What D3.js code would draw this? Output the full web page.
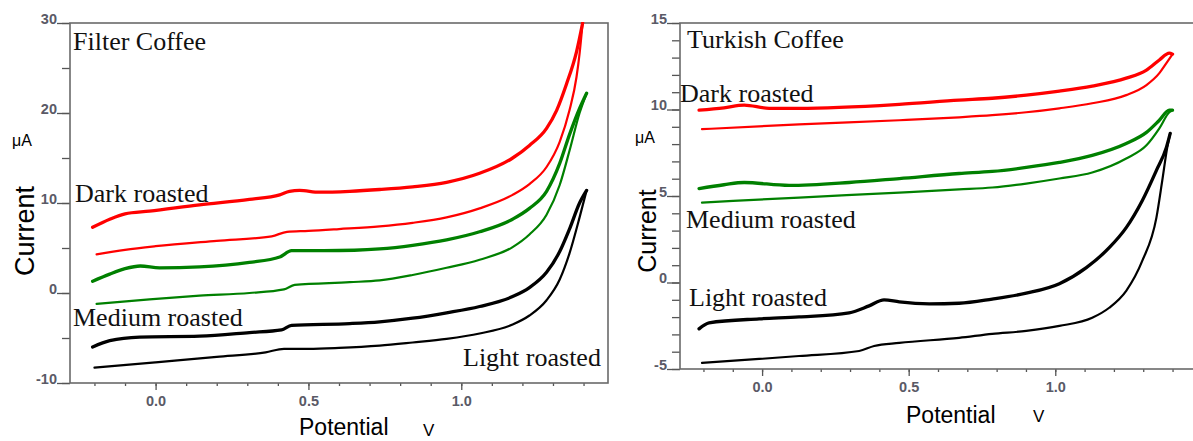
<!DOCTYPE html>
<html>
<head>
<meta charset="utf-8">
<script src="https://cdn.jsdelivr.net/npm/d3@7/dist/d3.min.js"></script>
<style>
    body { margin: 0; background: #ffffff; }
    svg { display: block; }
</style>
</head>
<body>
<div id="chart"></div>
<script>

// potential (V), current (uA)
// "fwd" = upper trace, "rev" = lower trace of each loop

const filter_dark_fwd = [[-0.206, 7.3], [-0.15, 8.2], [-0.1, 8.8], [-0.02, 9.1], [0.144, 9.8], [0.307, 10.4], [0.406, 10.9], [0.438, 11.3], [0.471, 11.4], [0.536, 11.2], [0.635, 11.3], [0.733, 11.5], [0.841, 11.8], [0.952, 12.3], [1.06, 13.3], [1.168, 15.0], [1.223, 16.4], [1.279, 18.3], [1.312, 20.3], [1.344, 23.2], [1.377, 26.8], [1.397, 30.0]]
const filter_dark_rev = [[-0.193, 4.3], [-0.1, 4.8], [0.0, 5.2], [0.2, 5.8], [0.38, 6.3], [0.43, 6.8], [0.5, 6.9], [0.6, 7.1], [0.733, 7.4], [0.841, 7.8], [0.952, 8.4], [1.06, 9.4], [1.168, 10.9], [1.223, 12.1], [1.279, 14.0], [1.322, 16.8], [1.354, 20.3], [1.377, 24.0], [1.387, 26.6], [1.397, 30.0]]
const filter_medium_fwd = [[-0.206, 1.3], [-0.15, 2.1], [-0.1, 2.7], [-0.05, 3.0], [0.013, 2.8], [0.144, 2.9], [0.307, 3.4], [0.406, 4.0], [0.445, 4.7], [0.55, 4.7], [0.65, 4.75], [0.733, 4.9], [0.841, 5.3], [0.952, 5.9], [1.06, 6.8], [1.168, 8.2], [1.223, 9.4], [1.279, 11.3], [1.322, 14.4], [1.354, 17.6], [1.387, 20.5], [1.41, 22.2]]
const filter_medium_rev = [[-0.193, -1.2], [-0.02, -0.7], [0.144, -0.3], [0.307, 0.0], [0.42, 0.4], [0.455, 0.9], [0.635, 1.2], [0.733, 1.4], [0.841, 2.0], [0.952, 2.8], [1.06, 3.7], [1.168, 5.1], [1.223, 6.5], [1.279, 8.7], [1.322, 12.0], [1.354, 15.8], [1.387, 20.0], [1.41, 22.2]]
const filter_light_fwd = [[-0.206, -6.0], [-0.15, -5.3], [-0.052, -4.9], [0.144, -4.8], [0.307, -4.4], [0.412, -4.1], [0.445, -3.6], [0.635, -3.4], [0.733, -3.2], [0.841, -2.8], [0.952, -2.2], [1.06, -1.5], [1.168, -0.4], [1.223, 0.6], [1.279, 2.3], [1.322, 4.6], [1.354, 7.1], [1.387, 10.0], [1.41, 11.4]]
const filter_light_rev = [[-0.2, -8.3], [0.0, -7.7], [0.2, -7.1], [0.36, -6.6], [0.42, -6.2], [0.5, -6.2], [0.6, -6.1], [0.733, -5.85], [0.841, -5.5], [0.952, -5.1], [1.06, -4.5], [1.168, -3.5], [1.223, -2.5], [1.279, -0.8], [1.322, 1.5], [1.354, 4.4], [1.387, 8.4], [1.41, 11.4]]

const turkish_dark_fwd = [[-0.215, 9.96], [-0.13, 10.1], [-0.061, 10.25], [0.024, 10.07], [0.126, 10.07], [0.468, 10.3], [0.672, 10.54], [0.785, 10.65], [0.901, 10.83], [1.014, 11.06], [1.126, 11.35], [1.242, 11.81], [1.311, 12.28], [1.355, 12.86], [1.389, 13.26], [1.4, 13.2]]
const turkish_dark_rev = [[-0.205, 8.86], [0.126, 9.14], [0.468, 9.38], [0.672, 9.55], [0.785, 9.67], [0.901, 9.84], [1.014, 10.07], [1.126, 10.36], [1.242, 10.83], [1.311, 11.41], [1.355, 12.1], [1.379, 12.68], [1.4, 13.2]]
const turkish_medium_fwd = [[-0.215, 5.43], [-0.13, 5.65], [-0.061, 5.78], [0.092, 5.61], [0.297, 5.78], [0.468, 6.01], [0.672, 6.3], [0.785, 6.42], [0.901, 6.65], [1.014, 6.94], [1.126, 7.35], [1.242, 8.04], [1.311, 8.68], [1.355, 9.38], [1.389, 9.96], [1.4, 9.96]]
const turkish_medium_rev = [[-0.205, 4.62], [0.126, 4.91], [0.468, 5.2], [0.672, 5.38], [0.785, 5.49], [0.901, 5.72], [1.014, 6.01], [1.126, 6.36], [1.242, 7.17], [1.311, 7.93], [1.355, 8.91], [1.389, 9.84], [1.4, 9.96]]
const turkish_light_fwd = [[-0.215, -2.68], [-0.181, -2.33], [-0.01, -2.1], [0.126, -1.99], [0.297, -1.75], [0.365, -1.35], [0.416, -1.0], [0.468, -1.12], [0.57, -1.23], [0.672, -1.2], [0.785, -0.96], [0.901, -0.62], [1.014, -0.07], [1.106, 0.86], [1.184, 2.01], [1.242, 3.17], [1.297, 4.74], [1.345, 6.48], [1.379, 7.81], [1.392, 8.62]]
const turkish_light_rev = [[-0.205, -4.65], [-0.01, -4.42], [0.126, -4.25], [0.331, -3.96], [0.382, -3.67], [0.468, -3.49], [0.672, -3.2], [0.785, -2.97], [0.901, -2.8], [1.014, -2.51], [1.126, -2.04], [1.184, -1.46], [1.242, -0.48], [1.297, 1.26], [1.345, 3.75], [1.365, 5.9], [1.382, 7.81], [1.392, 8.62]]

const potential_domain = [-0.28, 1.48]
const potential_major = [0.0, 0.5, 1.0]
const potential_minor_step = 0.1

const filter_current_domain = [-10, 30]
const filter_current_major = [-10, 0, 10, 20, 30]
const filter_current_minor_step = 5

const turkish_current_domain = [-5, 15]
const turkish_current_major = [-5, 0, 5, 10, 15]
const turkish_current_minor_step = 1

const roast_names = ['Dark roasted', 'Medium roasted', 'Light roasted']
const roast_colors = ['#ff0000', '#008000', '#000000']

const width = 1193
const height = 441

const svg = d3.select('#chart').append('svg')
    .attr('width', width)
    .attr('height', height)
    .attr('viewBox', [0, 0, width, height])

const panels = [
    {
        title: 'Filter Coffee',
        left: 70, right: 608, top: 23, bottom: 383,
        y_domain: filter_current_domain, y_major: filter_current_major, y_minor_step: filter_current_minor_step,
        fwd: [filter_dark_fwd, filter_medium_fwd, filter_light_fwd],
        rev: [filter_dark_rev, filter_medium_rev, filter_light_rev],
        title_pos: [73, 50],
        label_pos: [[75, 202], [73, 326], [463, 366]],
        ylabel_pos: [34, 231], ylabel_size: 27,
        unit_pos: [12, 146],
        xlabel_pos: [299, 435], xunit_pos: [423, 436]
    },
    {
        title: 'Turkish Coffee',
        left: 680, right: 1196, top: 23, bottom: 369,
        y_domain: turkish_current_domain, y_major: turkish_current_major, y_minor_step: turkish_current_minor_step,
        fwd: [turkish_dark_fwd, turkish_medium_fwd, turkish_light_fwd],
        rev: [turkish_dark_rev, turkish_medium_rev, turkish_light_rev],
        title_pos: [687, 48],
        label_pos: [[680, 102], [686, 228], [689, 306]],
        ylabel_pos: [656, 231], ylabel_size: 25,
        unit_pos: [635, 143],
        xlabel_pos: [906, 423], xunit_pos: [1033, 422]
    }
]

panels.forEach(draw_panel)

function draw_panel(p) {

    var x = d3.scaleLinear().domain(potential_domain).range([p.left, p.right])
    var y = d3.scaleLinear().domain(p.y_domain).range([p.bottom, p.top])

    var g = svg.append('g')

    var clip_id = 'clip_' + p.left
    g.append('clipPath').attr('id', clip_id)
        .append('rect')
        .attr('x', p.left).attr('y', p.top - 1)
        .attr('width', p.right - p.left).attr('height', p.bottom - p.top + 1)

    // x axis: minor then major ticks
    var x_minor = d3.range(-0.2, 1.45, potential_minor_step)
    g.append('g')
        .attr('transform', `translate(0,${p.bottom})`)
        .call(d3.axisBottom(x).tickValues(x_minor).tickSize(3).tickSizeOuter(0).tickFormat(''))
        .call(a => a.select('.domain').remove())

    var x_axis = g.append('g')
        .attr('transform', `translate(0,${p.bottom})`)
        .call(d3.axisBottom(x).tickValues(potential_major).tickSize(7).tickSizeOuter(0).tickFormat(d3.format('.1f')))
        .call(a => a.select('.domain').remove())

    x_axis.selectAll('text')
        .attr('y', 23).attr('dy', 0)

    // y axis
    var y_minor = d3.range(p.y_domain[0], p.y_domain[1] + 0.001, p.y_minor_step)
    g.append('g')
        .attr('transform', `translate(${p.left},0)`)
        .call(d3.axisLeft(y).tickValues(y_minor).tickSize(8).tickSizeOuter(0).tickFormat(''))
        .call(a => a.select('.domain').remove())

    var y_axis = g.append('g')
        .attr('transform', `translate(${p.left},0)`)
        .call(d3.axisLeft(y).tickValues(p.y_major).tickSize(13).tickSizeOuter(0).tickFormat(d => String(d)))
        .call(a => a.select('.domain').remove())

    y_axis.selectAll('text')
        .attr('x', -13).attr('dy', 0).attr('y', 0)

    g.selectAll('.tick line').attr('stroke', '#555').attr('stroke-width', 1.3)
    g.selectAll('.tick text')
        .attr('font-family', '"Liberation Sans", Arial, sans-serif')
        .attr('font-size', 14.5)
        .attr('font-weight', 'bold')
        .attr('fill', '#5a5a66')

    // frame
    g.append('rect')
        .attr('x', p.left).attr('y', p.top)
        .attr('width', p.right - p.left).attr('height', p.bottom - p.top)
        .attr('fill', 'none')
        .attr('stroke', '#6a6a6a')
        .attr('stroke-width', 1.6)

    // curves
    var line = d3.line()
        .x(d => x(d[0]))
        .y(d => y(d[1]))
        .curve(d3.curveMonotoneX)

    var curves = g.append('g').attr('clip-path', `url(#${clip_id})`)

    p.rev.forEach((data, i) => {
        curves.append('path')
            .datum(data)
            .attr('d', line)
            .attr('fill', 'none')
            .attr('stroke', roast_colors[i])
            .attr('stroke-width', 2.2)
            .attr('stroke-linejoin', 'round')
            .attr('stroke-linecap', 'round')
    })

    p.fwd.forEach((data, i) => {
        curves.append('path')
            .datum(data)
            .attr('d', line)
            .attr('fill', 'none')
            .attr('stroke', roast_colors[i])
            .attr('stroke-width', 3.3)
            .attr('stroke-linejoin', 'round')
            .attr('stroke-linecap', 'round')
    })

    // texts
    var serif = '"Liberation Serif", "Times New Roman", serif'
    var sans = '"Liberation Sans", Arial, sans-serif'

    g.append('text')
        .attr('x', p.title_pos[0]).attr('y', p.title_pos[1])
        .attr('font-family', serif).attr('font-size', 26)
        .attr('fill', '#111')
        .text(p.title)

    roast_names.forEach((name, i) => {
        g.append('text')
            .attr('x', p.label_pos[i][0]).attr('y', p.label_pos[i][1])
            .attr('font-family', serif).attr('font-size', 26)
            .attr('fill', '#111')
            .text(name)
    })

    g.append('text')
        .attr('transform', `translate(${p.ylabel_pos[0]},${p.ylabel_pos[1]}) rotate(-90)`)
        .attr('text-anchor', 'middle')
        .attr('font-family', sans).attr('font-size', p.ylabel_size)
        .attr('fill', '#000')
        .text('Current')

    g.append('text')
        .attr('x', p.unit_pos[0]).attr('y', p.unit_pos[1])
        .attr('font-family', sans).attr('font-size', 16)
        .attr('fill', '#000')
        .text('μA')

    g.append('text')
        .attr('x', p.xlabel_pos[0]).attr('y', p.xlabel_pos[1])
        .attr('font-family', sans).attr('font-size', 23)
        .attr('fill', '#000')
        .text('Potential')

    g.append('text')
        .attr('x', p.xunit_pos[0]).attr('y', p.xunit_pos[1])
        .attr('font-family', sans).attr('font-size', 17)
        .attr('fill', '#000')
        .text('V')
}

</script>
</body>
</html>
